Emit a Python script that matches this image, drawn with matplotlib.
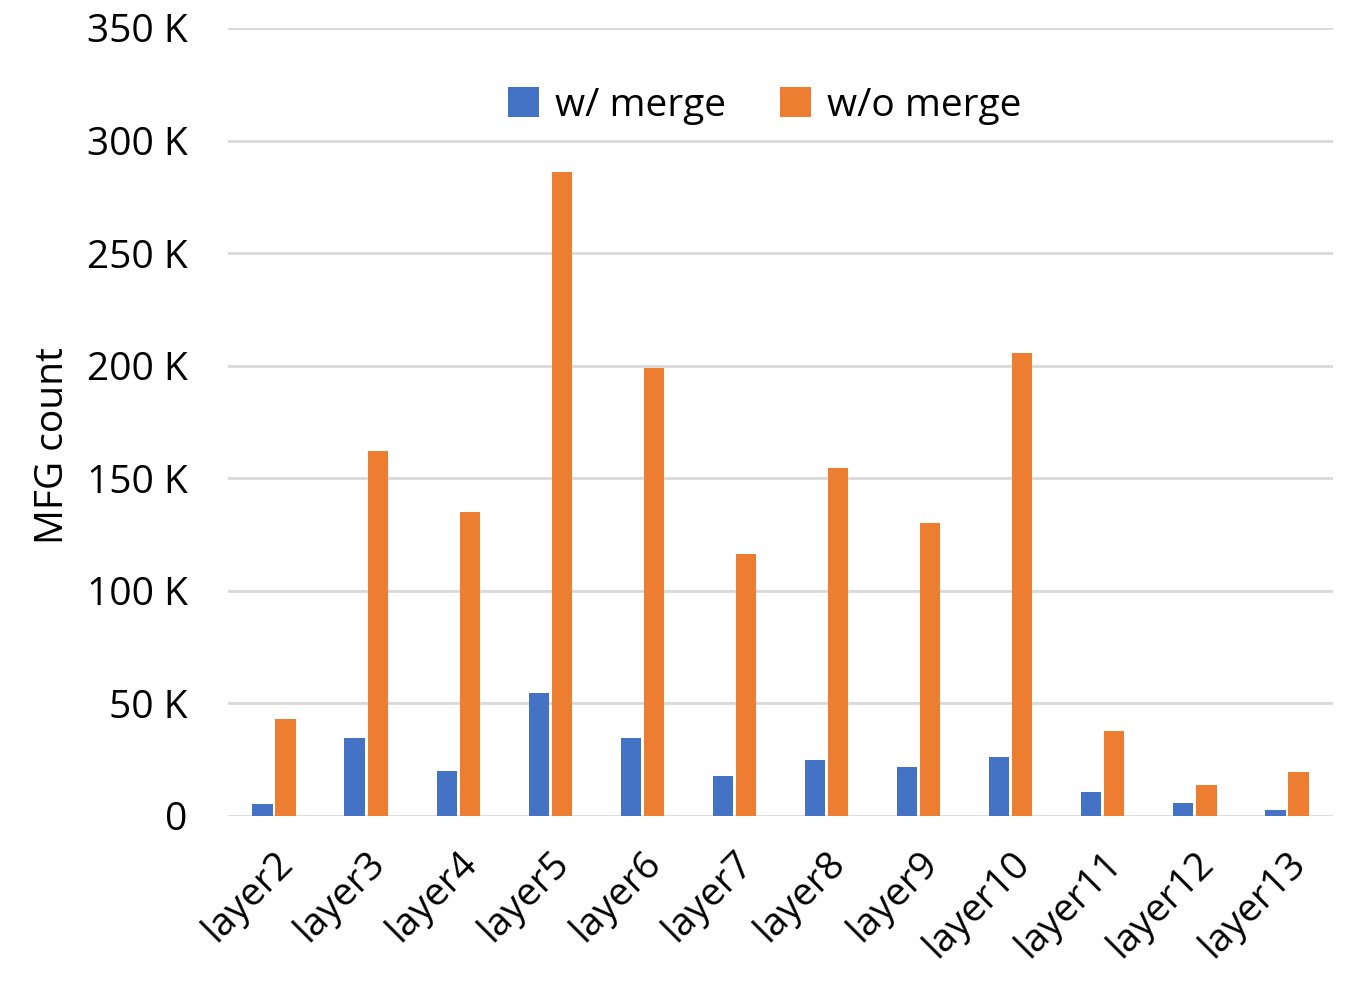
import numpy as np
import matplotlib.pyplot as plt

plt.rcParams['font.family'] = ['Open Sans', 'DejaVu Sans']

layers = ["layer2", "layer3", "layer4", "layer5", "layer6", "layer7",
          "layer8", "layer9", "layer10", "layer11", "layer12", "layer13"]
w_merge = [5.3, 34.6, 20.0, 54.6, 34.6, 17.7, 24.8, 21.7, 26.2, 10.6, 5.8, 2.7]
wo_merge = [43.0, 162.0, 135.0, 286.0, 199.0, 116.4, 154.6, 130.0, 205.7, 37.7, 13.8, 19.5]
yticks = [0, 50, 100, 150, 200, 250, 300, 350]
ytick_labels = ["0", "50 K", "100 K", "150 K", "200 K", "250 K", "300 K", "350 K"]

fig = plt.figure(figsize=(13.63, 9.91), dpi=100)
ax = fig.add_axes([228/1363, 1 - 816/991, (1333-228)/1363, (816-28)/991])

x = np.arange(len(layers))
bw = 0.22
ax.bar(x - 0.125, w_merge, bw, color="#4472c4", label="w/ merge", zorder=3)
ax.bar(x + 0.125, wo_merge, bw, color="#ed7d31", label="w/o merge", zorder=3)

ax.set_xlim(-0.5, len(layers) - 0.5)
ax.set_ylim(0, 350)
ax.set_yticks(yticks)
ax.set_yticklabels(ytick_labels)
ax.set_xticks(x)
ax.set_xticklabels(layers, rotation=45, ha="right", rotation_mode="anchor")
ax.tick_params(axis="both", length=0, labelsize=28)
ax.tick_params(axis="y", pad=29)
ax.tick_params(axis="x", pad=20)
ax.grid(axis="y", color="#d9d9d9", linewidth=2, zorder=0)
for s in ax.spines.values():
    s.set_visible(False)

ax.set_ylabel("MFG count", fontsize=28)
ax.yaxis.set_label_coords(-0.141, 0.47)

ax.legend(loc="upper center", bbox_to_anchor=(0.4855, 0.97), ncol=2, frameon=False,
          fontsize=28, handlelength=0.8, handleheight=0.8, handletextpad=0.4,
          columnspacing=1.4)

fig.savefig("out.png", dpi=100)
